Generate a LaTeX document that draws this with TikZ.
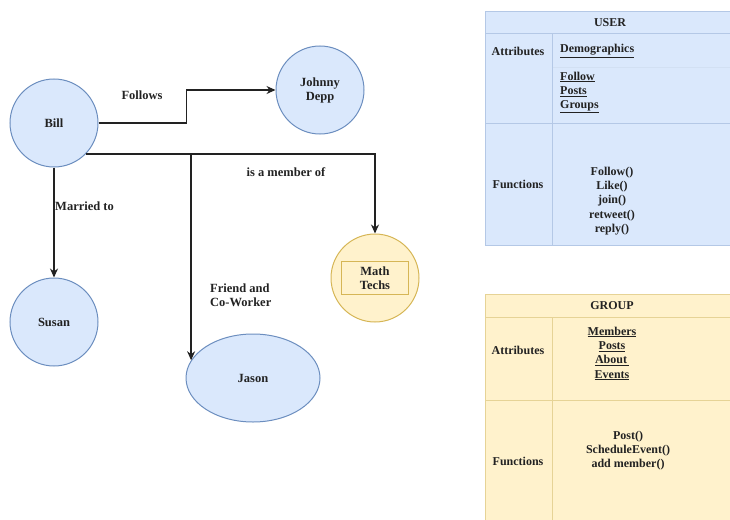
\documentclass[tikz,border=0pt]{standalone}
\usepackage{fontspec}
\setmainfont{Liberation Serif}
\usetikzlibrary{arrows.meta,shapes.geometric}
\definecolor{bfill}{HTML}{DAE8FC}
\definecolor{bline}{HTML}{6C8EBF}
\definecolor{yfill}{HTML}{FFF2CC}
\definecolor{yline}{HTML}{D6B656}
\definecolor{tbline}{HTML}{B4C8E6}
\definecolor{tbfaint}{HTML}{D2E0F3}
\definecolor{tyline}{HTML}{E6D396}
\definecolor{ink}{HTML}{222222}
\begin{document}
\begin{tikzpicture}[x=1pt,y=-1pt,
  every node/.style={font=\fontsize{12.5}{14}\selectfont\bfseries, text=ink},
  person/.style={circle, draw=bline, fill=bfill, line width=1pt, minimum size=88pt, inner sep=0pt, align=center},
  grpnode/.style={circle, draw=yline, fill=yfill, line width=1pt, minimum size=88pt, inner sep=0pt},
  grpbox/.style={rectangle, draw=yline, fill=yfill, line width=0.9pt, minimum width=67pt, minimum height=33pt, inner sep=0pt, align=center},
  conn/.style={draw=ink, line width=1.3pt, -{Stealth[length=9pt,width=8pt]}},
  lbl/.style={align=left, inner sep=0pt},
  tbl/.style={font=\fontsize{12}{14.3}\selectfont\bfseries, inner sep=0pt, align=center},
  tblleft/.style={font=\fontsize{12}{14.3}\selectfont\bfseries, inner sep=0pt, align=left}
]
\useasboundingbox (0,0) rectangle (730,519);

% ---------- graph ----------
\node[person] (bill) at (54,123) {Bill};
\node[person] (johnny) at (320,90) {Johnny\\Depp};
\node[person] (susan) at (54,322) {Susan};
\node[ellipse, draw=bline, fill=bfill, line width=1pt, minimum width=134pt, minimum height=88pt, inner sep=0pt] (jason) at (253,378) {Jason};
\node[grpnode] (math) at (375,278) {};
\node[grpbox] (mathbox) at (375,278) {Math\\Techs};

\draw[conn] (bill.east) -- ++(88,0) |- (johnny.west);
\draw[conn] (bill.south) -- (susan.north);
\draw[conn] (bill.-44) -| (math.north);
\draw[conn] (bill.-44) -| (jason.164.7);

\node[lbl] (lfollows) at (142,95) {Follows};
\node[lbl] (lmember) at (286,172) {is a member of};
\node[lbl, anchor=west] (lmarried) at (55,206) {Married to};
\node[lbl, anchor=west] (lfriend) at (210,295) {Friend and\\Co-Worker};

% ---------- USER table ----------
\fill[bfill] (485,12) rectangle (734,245);
\draw[tbfaint, line width=0.8pt] (552,67) -- (734,67);
\draw[tbline, line width=1pt] (485,12) rectangle (734,245);
\draw[tbline, line width=1pt] (485,34) -- (734,34);
\draw[tbline, line width=1pt] (485,123) -- (734,123);
\draw[tbline, line width=1pt] (552,34) -- (552,245);
\node[tbl] (uhead) at (610,23) {USER};
\node[tbl] (uattr) at (518,51) {Attributes};
\node[tblleft, anchor=west] (udemo) at (560,51) {\underline{Demographics}};
\node[tblleft, anchor=west] (ulist) at (560,92.5) {\underline{Follow}\\\underline{Posts}\\\underline{Groups}};
\node[tbl] (ufunc) at (518,184) {Functions};
\node[tbl] (ufuncs) at (612,201) {Follow()\\Like()\\join()\\retweet()\\reply()};

% ---------- GROUP table ----------
\fill[yfill] (485,294) rectangle (734,523);
\draw[tyline, line width=1pt] (485,294) rectangle (734,523);
\draw[tyline, line width=1pt] (485,317) -- (734,317);
\draw[tyline, line width=1pt] (485,400) -- (734,400);
\draw[tyline, line width=1pt] (552,317) -- (552,523);
\node[tbl] (ghead) at (612,306) {GROUP};
\node[tbl] (gattr) at (518,350) {Attributes};
\node[tbl] (glist) at (612,353.5) {\underline{Members}\\\underline{Posts}\\\underline{About\,}\\\underline{Events}};
\node[tbl] (gfunc) at (518,461) {Functions};
\node[tbl] (gfuncs) at (628,450.5) {Post()\\ScheduleEvent()\\add member()};
\end{tikzpicture}
\end{document}
